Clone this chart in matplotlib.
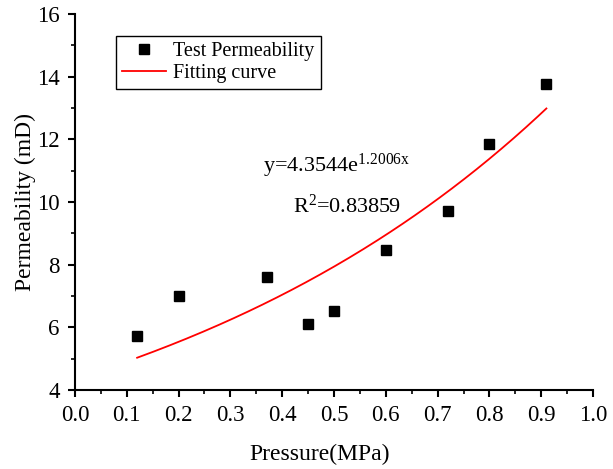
import numpy as np
import matplotlib
matplotlib.use("Agg")
import matplotlib.pyplot as plt
from matplotlib.ticker import MultipleLocator, FormatStrFormatter

plt.rcParams['font.family'] = ['Liberation Serif', 'DejaVu Serif']
plt.rcParams['mathtext.fontset'] = 'custom'
plt.rcParams['mathtext.rm'] = 'Liberation Serif'
plt.rcParams['mathtext.it'] = 'Liberation Serif:italic'

# Data
pressure = [0.12, 0.20, 0.37, 0.45, 0.50, 0.60, 0.72, 0.80, 0.91]
permeability = [5.72, 6.99, 7.60, 6.10, 6.51, 8.47, 9.71, 11.84, 13.76]
fit_a = 4.3544
fit_b = 1.2006

fig = plt.figure(figsize=(6.13, 4.69), dpi=100)
ax = fig.add_axes([0.1223, 0.1685, 0.8451, 0.8017])

xf = np.linspace(min(pressure), max(pressure), 200)
yf = fit_a * np.exp(fit_b * xf)

ax.plot(pressure, permeability, 's', color='black', ms=6.5, label='Test Permeability', zorder=3)
ax.plot(xf, yf, '-', color='red', lw=1.3, label='Fitting curve', zorder=2)

ax.set_xlim(0.0, 1.0)
ax.set_ylim(4, 16)
ax.xaxis.set_major_locator(MultipleLocator(0.1))
ax.xaxis.set_minor_locator(MultipleLocator(0.05))
ax.yaxis.set_major_locator(MultipleLocator(2))
ax.yaxis.set_minor_locator(MultipleLocator(1))
ax.xaxis.set_major_formatter(FormatStrFormatter('%.1f'))

for s in ['top', 'right']:
    ax.spines[s].set_visible(False)
for s in ['left', 'bottom']:
    ax.spines[s].set_linewidth(1.5)

ax.tick_params(which='major', direction='out', length=5, width=1.5, labelsize=16.5, pad=6)
ax.tick_params(which='minor', direction='out', length=3, width=1.2)

ax.set_xlabel('Pressure(MPa)', fontsize=17)
ax.xaxis.set_label_coords(0.473, -0.143)
ax.set_ylabel('Permeability (mD)', fontsize=17, labelpad=1)

leg = ax.legend(loc='upper left', bbox_to_anchor=(0.079, 0.942), fontsize=14.5,
                frameon=True, fancybox=False, edgecolor='black', framealpha=1,
                handlelength=2.2, handletextpad=0.35, borderpad=0.3, labelspacing=0.15,
                borderaxespad=0)
leg.get_frame().set_linewidth(1.0)

ax.text(0.362, 10.95, r'y=4.3544e$^{\mathrm{1.2006x}}$', fontsize=16, ha='left', va='baseline')
ax.text(0.421, 9.65, r'R$^{\mathrm{2}}$=0.83859', fontsize=16, ha='left', va='baseline')

fig.savefig('out.png', dpi=100)
